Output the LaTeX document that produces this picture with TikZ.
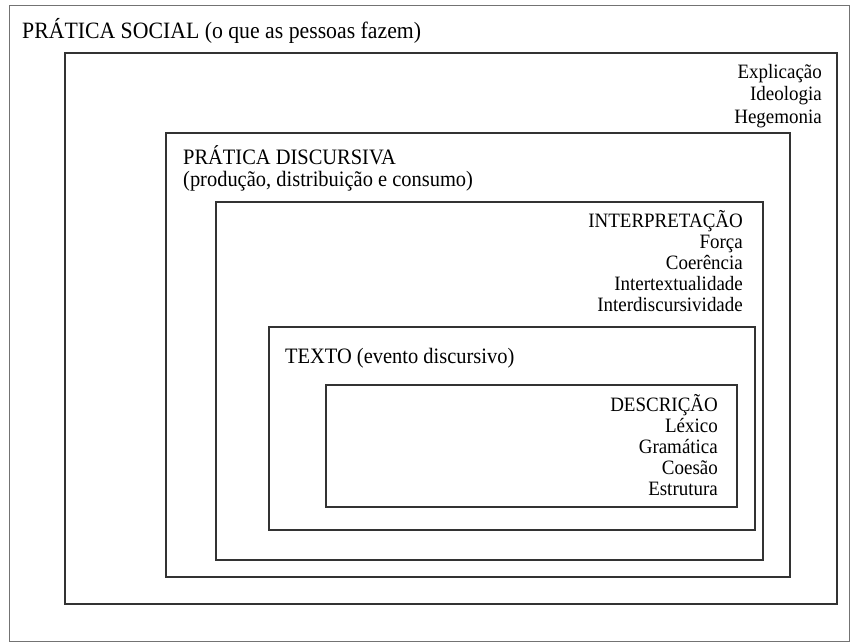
\documentclass[tikz,border=0pt]{standalone}
\usepackage{fontspec}
\setmainfont[FakeStretch=0.93]{Liberation Serif}
\usetikzlibrary{positioning}
\tikzset{
  frame/.style={draw=black!80, line width=1.1pt},
  outerframe/.style={draw=black!55, line width=0.9pt},
  lbl/.style={inner sep=0pt, font=\fontsize{20.4}{21}\selectfont},
  title/.style={inner sep=0pt, align=left, anchor=base west,
    font=\fontsize{22}{22}\selectfont},
  rlist/.style={lbl, align=right, anchor=base east}
}

\begin{document}
\begin{tikzpicture}[x=1pt, y=-1pt]
  \useasboundingbox (0,0) rectangle (850,642);
  % nested frames, outermost first
  \draw[outerframe] (9,5) rectangle (849.5,641);
  \draw[frame] (65,53) rectangle (837,604);
  \draw[frame] (166,133) rectangle (790,577);
  \draw[frame] (216,202) rectangle (763,560);
  \draw[frame] (269,327) rectangle (755,530);
  \draw[frame] (326,385) rectangle (737,507);

  % base of a list = baseline of its last line
  \node[title, font=\fontsize{23.4}{22}\selectfont] (social) at (22,39) {PRÁTICA SOCIAL (o que as pessoas fazem)};
  \node[rlist, font=\fontsize{20.4}{22.5}\selectfont] (explic) at (822,123) {Explicação\\Ideologia\\Hegemonia};
  \node[title] (discursiva) at (183,186) {PRÁTICA DISCURSIVA\\(produção, distribuição e consumo)};
  \node[rlist] (interp) at (743,311) {INTERPRETAÇÃO\\Força\\Coerência\\Intertextualidade\\Interdiscursividade};
  \node[title] (texto) at (285,363) {TEXTO (evento discursivo)};
  \node[rlist] (descr) at (718,495) {DESCRIÇÃO\\Léxico\\Gramática\\Coesão\\Estrutura};
\end{tikzpicture}
\end{document}
